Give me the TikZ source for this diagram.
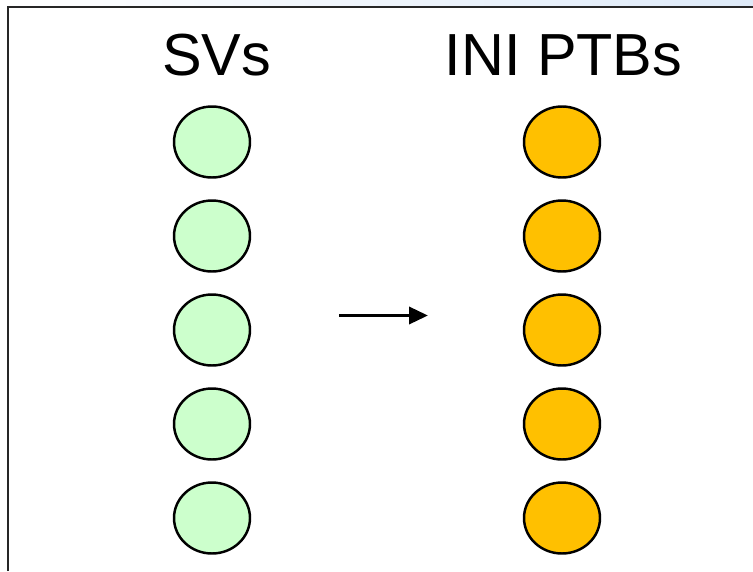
\documentclass[tikz,border=0pt]{standalone}
\usepackage{fontspec}
\setmainfont{Liberation Sans}
\usepackage{xcolor}
\definecolor{svgruen}{RGB}{204,255,204}
\definecolor{ptborange}{RGB}{255,192,0}
\definecolor{randblau}{RGB}{222,234,248}
\usepackage{tikz}
\usetikzlibrary{shapes.geometric, arrows.meta, positioning}

\begin{document}
\begin{tikzpicture}[x=0.02cm, y=-0.02cm,
	kreis/.style={ellipse, draw=black, line width=1.4pt, minimum width=1.52cm,
	              minimum height=1.42cm, inner sep=0pt},
	sv/.style={kreis, fill=svgruen},
	ptb/.style={kreis, fill=ptborange},
	titel/.style={anchor=base, font=\fontsize{33.8}{36}\selectfont, inner sep=0pt},
	arr/.style={-{Triangle[length=3.8mm, width=3.4mm]}, line width=2pt, draw=black},
	rahmen/.style={draw=black!85, line width=1.7pt}
	]
\useasboundingbox (0,0) rectangle (753,571);
% Hintergrund oben und Rahmen
\shade[left color=white, right color=randblau] (0,0) rectangle (753,7);
\draw[rahmen] (8,571) -- (8,7) -- (753,7);

% Spaltentitel
\node[titel] (tsv) at (216.5,75) {SVs};
\node[titel] (tptb) at (563.5,75) {INI PTBs};

% linke Spalte
\node[sv] (sv1) at (212,142) {};
\node[sv] (sv2) at (212,236) {};
\node[sv] (sv3) at (212,330) {};
\node[sv] (sv4) at (212,424) {};
\node[sv] (sv5) at (212,518) {};

% rechte Spalte
\node[ptb] (ptb1) at (562,142) {};
\node[ptb] (ptb2) at (562,236) {};
\node[ptb] (ptb3) at (562,330) {};
\node[ptb] (ptb4) at (562,424) {};
\node[ptb] (ptb5) at (562,518) {};

% Pfeil dazwischen
\coordinate (pfeilA) at (339,315.5);
\coordinate (pfeilB) at (428,315.5);
\draw[arr] (pfeilA) -- (pfeilB);
\end{tikzpicture}
\end{document}
